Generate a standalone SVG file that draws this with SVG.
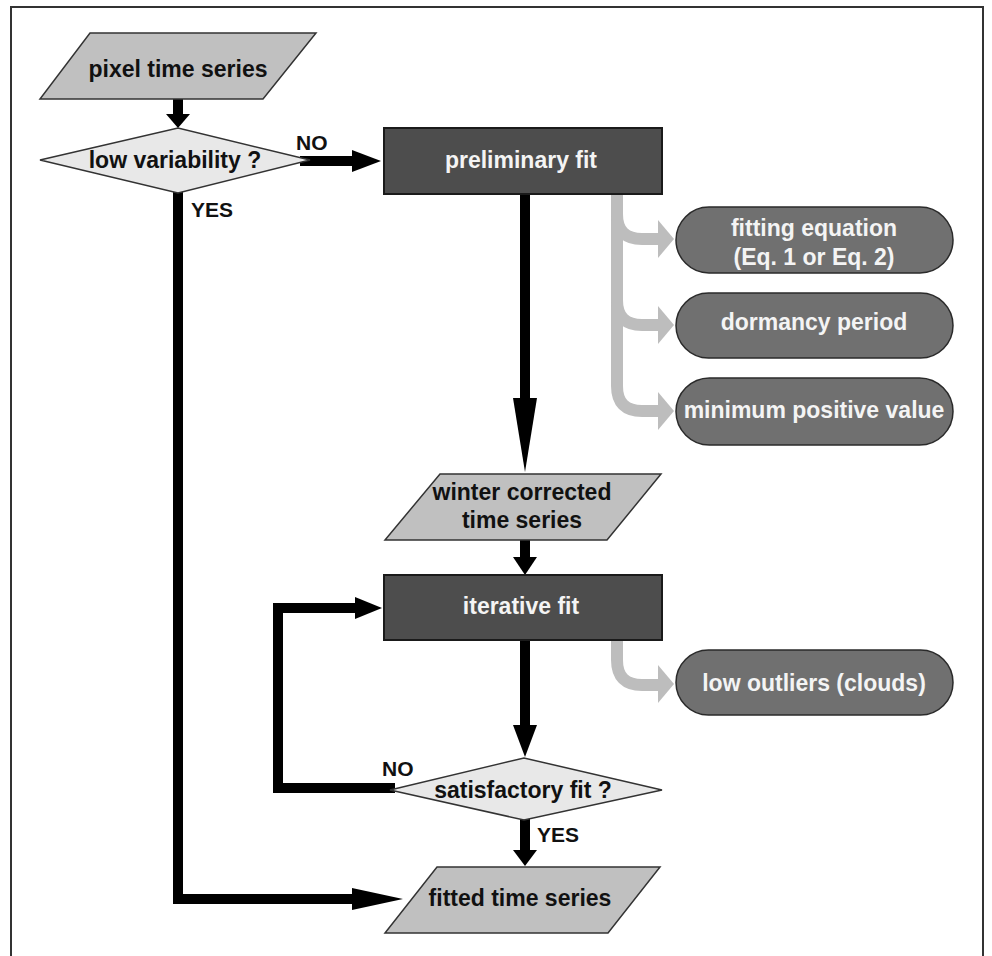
<svg xmlns="http://www.w3.org/2000/svg" width="992" height="956" viewBox="0 0 992 956">
<style>
text{font-family:"Liberation Sans",Arial,sans-serif;font-weight:bold;font-size:23px;text-anchor:middle}
.dk{fill:#111}
.wt{fill:#f4f4f4}
.lbl{font-size:21px;text-anchor:start;fill:#111}
.para{fill:#c0c0c0;stroke:#333;stroke-width:1.5}
.dia{fill:#e8e8e8;stroke:#333;stroke-width:1.5}
.box{fill:#4d4d4d;stroke:#1a1a1a;stroke-width:2}
.stad{fill:#707070;stroke:#2a2a2a;stroke-width:1.5}
.blk{fill:none;stroke:#000;stroke-width:10;stroke-linejoin:miter}
.gry{fill:none;stroke:#bdbdbd;stroke-width:12}
.bh{fill:#000}
.gh{fill:#bdbdbd}
</style>
<rect width="992" height="956" fill="#fff"/>
<path d="M11,956 V7 H983 V956" fill="none" stroke="#333" stroke-width="2"/>
<g id="connectors">
  <path class="blk" d="M178,99 V115"/>
  <polygon class="bh" points="166,114 190,114 178,128"/>
  <path class="blk" d="M300,161 H355"/>
  <polygon class="bh" points="352,150 352,172 381,161"/>
  <path class="blk" d="M178,190 V899 H355"/>
  <polygon class="bh" points="352,888 352,910 403,899"/>
  <path class="blk" d="M525,194 V400"/>
  <polygon class="bh" points="513,398 537,398 525,472"/>
  <path class="gry" d="M617,194 V386 Q617,411 642,411 H660"/>
  <path class="gry" d="M617,214 Q617,239 642,239 H660"/>
  <path class="gry" d="M617,300 Q617,325 642,325 H660"/>
  <polygon class="gh" points="658,220 658,258 674,239"/>
  <polygon class="gh" points="658,306 658,344 674,325"/>
  <polygon class="gh" points="658,392 658,430 674,411"/>
  <path class="blk" d="M525,540 V559"/>
  <polygon class="bh" points="513,557 537,557 525,575"/>
  <path class="gry" d="M617,640 V660 Q617,685 642,685 H660"/>
  <polygon class="gh" points="658,665 658,703 674,684"/>
  <path class="blk" d="M525,640 V727"/>
  <polygon class="bh" points="513,725 537,725 525,757"/>
  <path class="blk" d="M395,788 H278 V608 H357"/>
  <polygon class="bh" points="355,597 355,619 382,608"/>
  <path class="blk" d="M525,818 V852"/>
  <polygon class="bh" points="513,850 537,850 525,866"/>
  <text class="lbl" x="296" y="150">NO</text>
  <text class="lbl" x="191" y="217">YES</text>
  <text class="lbl" x="382" y="776">NO</text>
  <text class="lbl" x="537" y="842">YES</text>
</g>
<g id="pixel-time-series">
  <polygon class="para" points="90,33 316,33 263,99 40,99"/>
  <text class="dk" x="178" y="77">pixel time series</text>
</g>
<g id="low-variability">
  <polygon class="dia" points="40,160 178,128 310,160 178,193"/>
  <text class="dk" x="175" y="168">low variability ?</text>
</g>
<g id="preliminary-fit">
  <rect class="box" x="384" y="128" width="278" height="66"/>
  <text class="wt" x="521" y="168">preliminary fit</text>
</g>
<g id="fitting-equation">
  <rect class="stad" x="676" y="207" width="277" height="66" rx="33"/>
  <text class="wt" x="814" y="236">fitting equation</text>
  <text class="wt" x="814" y="265">(Eq. 1 or Eq. 2)</text>
</g>
<g id="dormancy-period">
  <rect class="stad" x="676" y="293" width="277" height="65" rx="32.5"/>
  <text class="wt" x="814" y="330">dormancy period</text>
</g>
<g id="minimum-positive-value">
  <rect class="stad" x="676" y="378" width="277" height="67" rx="33.5"/>
  <text class="wt" x="814" y="418">minimum positive value</text>
</g>
<g id="winter-corrected">
  <polygon class="para" points="440,474 661,474 607,540 385,540"/>
  <text class="dk" x="522" y="500">winter corrected</text>
  <text class="dk" x="522" y="528">time series</text>
</g>
<g id="iterative-fit">
  <rect class="box" x="384" y="575" width="278" height="65"/>
  <text class="wt" x="521" y="614">iterative fit</text>
</g>
<g id="low-outliers">
  <rect class="stad" x="676" y="650" width="277" height="65" rx="32.5"/>
  <text class="wt" x="814" y="691">low outliers (clouds)</text>
</g>
<g id="satisfactory-fit">
  <polygon class="dia" points="390,790 524,758 662,790 524,820"/>
  <text class="dk" x="523" y="798">satisfactory fit ?</text>
</g>
<g id="fitted-time-series">
  <polygon class="para" points="437,867 660,867 608,933 385,933"/>
  <text class="dk" x="520" y="906">fitted time series</text>
</g>
</svg>
